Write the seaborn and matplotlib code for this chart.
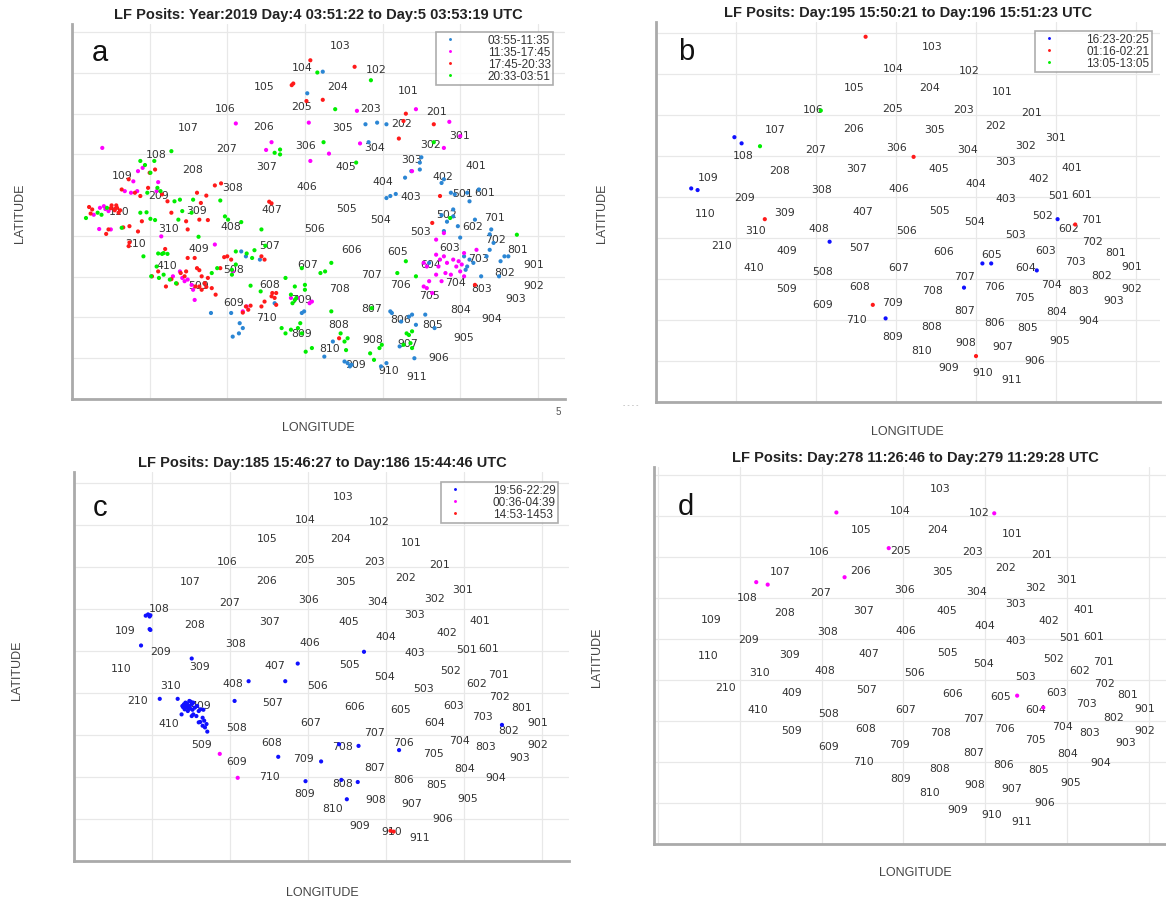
import matplotlib
matplotlib.use("Agg")
import matplotlib.pyplot as plt
import seaborn as sns
import pandas as pd

# station grid labels (data units, same layout in all four panels)
station_ids = [101, 102, 103, 104, 105, 106, 107, 108, 109, 110,
               201, 202, 203, 204, 205, 206, 207, 208, 209, 210,
               301, 302, 303, 304, 305, 306, 307, 308, 309, 310,
               401, 402, 403, 404, 405, 406, 407, 408, 409, 410,
               501, 502, 503, 504, 505, 506, 507, 508, 509,
               601, 602, 603, 604, 605, 606, 607, 608, 609,
               701, 702, 703, 704, 705, 706, 707, 708, 709, 710,
               801, 802, 803, 804, 805, 806, 807, 808, 809, 810,
               901, 902, 903, 904, 905, 906, 907, 908, 909, 910, 911]
station_x = [4.33, 3.92, 3.45, 2.96, 2.48, 1.97, 1.49, 1.09, 0.65, 0.61,
             4.69, 4.25, 3.85, 3.42, 2.96, 2.47, 1.99, 1.55, 1.11, 0.82,
             4.99, 4.62, 4.37, 3.90, 3.48, 3.01, 2.51, 2.07, 1.61, 1.24,
             5.20, 4.78, 4.37, 4.00, 3.53, 3.03, 2.58, 2.04, 1.63, 1.22,
             5.03, 4.83, 4.49, 3.98, 3.54, 3.13, 2.55, 2.08, 1.63,
             5.32, 5.16, 4.87, 4.62, 4.19, 3.60, 3.03, 2.54, 2.08,
             5.44, 5.46, 5.24, 4.94, 4.61, 4.23, 3.86, 3.45, 2.95, 2.51,
             5.74, 5.57, 5.28, 5.01, 4.65, 4.23, 3.86, 3.44, 2.96, 3.32,
             5.95, 5.95, 5.72, 5.41, 5.05, 4.73, 4.33, 3.87, 3.66, 4.08, 4.44]
station_y = [7.59, 8.10, 8.68, 8.15, 7.69, 7.15, 6.67, 6.02, 5.50, 4.60,
             7.07, 6.76, 7.14, 7.68, 7.18, 6.69, 6.16, 5.65, 5.01, 3.83,
             6.47, 6.26, 5.88, 6.18, 6.67, 6.23, 5.72, 5.20, 4.64, 4.20,
             5.73, 5.46, 4.97, 5.35, 5.72, 5.22, 4.66, 4.24, 3.71, 3.29,
             5.05, 4.55, 4.11, 4.41, 4.68, 4.20, 3.78, 3.20, 2.79,
             5.07, 4.24, 3.72, 3.30, 3.62, 3.69, 3.30, 2.83, 2.38,
             4.46, 3.93, 3.45, 2.87, 2.56, 2.83, 3.07, 2.73, 2.45, 2.02,
             3.67, 3.11, 2.73, 2.22, 1.84, 1.96, 2.24, 1.85, 1.61, 1.26,
             3.32, 2.79, 2.48, 1.99, 1.51, 1.02, 1.37, 1.47, 0.85, 0.72, 0.57]

# panel a: Year 2019 day 4-5
a_periods = ["03:55-11:35", "11:35-17:45", "17:45-20:33", "20:33-03:51"]
a_blue = [(3.23, 8.03), (3.03, 7.50), (3.78, 6.74), (3.93, 6.78), (4.05, 6.74), (3.82, 6.30),
          (4.50, 5.93), (4.48, 5.80), (4.37, 5.59), (4.29, 5.43), (4.48, 5.63), (2.18, 3.62),
          (2.24, 3.50), (2.42, 3.42), (1.79, 2.11), (2.05, 2.11), (2.16, 1.86), (2.20, 1.74),
          (2.07, 1.53), (2.15, 1.61), (2.61, 2.35), (2.99, 2.15), (2.96, 2.11), (3.36, 1.41),
          (3.25, 1.04), (3.51, 0.92), (3.55, 0.88), (3.58, 0.80), (3.60, 0.84), (3.98, 0.80),
          (4.05, 0.88), (4.10, 2.15), (4.12, 2.11), (4.22, 1.29), (4.24, 1.90), (4.34, 2.02),
          (4.38, 2.07), (4.43, 1.82), (4.55, 2.07), (4.41, 1.00), (4.67, 1.74), (4.05, 4.93),
          (4.10, 4.98), (4.17, 5.03), (4.76, 5.30), (4.79, 5.39), (4.88, 5.06), (4.93, 5.02),
          (5.09, 5.06), (5.12, 4.85), (5.24, 5.14), (4.76, 4.51), (4.83, 4.35), (4.91, 4.48),
          (4.97, 4.24), (4.79, 4.12), (5.00, 3.96), (5.19, 4.40), (5.40, 4.16), (5.38, 4.04),
          (5.43, 3.83), (5.38, 3.66), (5.34, 3.50), (5.27, 3.01), (5.52, 3.38), (5.57, 3.50),
          (5.50, 3.01), (4.60, 3.34), (5.05, 3.50), (5.12, 3.42), (5.17, 3.34), (5.07, 3.17),
          (5.09, 3.25), (4.91, 4.65), (5.62, 3.50)]
a_magenta = [(3.67, 7.07), (4.43, 7.11), (2.11, 6.76), (3.05, 6.78), (4.86, 6.80), (5.00, 6.45),
             (0.39, 6.16), (2.57, 6.30), (2.50, 6.11), (3.31, 6.02), (3.71, 6.27), (4.79, 6.16),
             (4.38, 5.59), (3.07, 5.84), (0.85, 5.59), (0.91, 5.67), (0.79, 5.34), (0.68, 5.10),
             (0.76, 5.06), (0.84, 5.10), (1.11, 5.32), (1.09, 5.10), (1.15, 3.99), (0.43, 4.66),
             (0.47, 4.61), (0.36, 4.69), (0.41, 4.73), (0.35, 4.17), (0.28, 4.52), (0.50, 4.16),
             (1.30, 3.01), (1.39, 3.13), (1.42, 2.97), (1.45, 2.89), (1.54, 2.80), (1.56, 2.68),
             (1.49, 2.93), (1.58, 2.43), (1.84, 3.79), (2.07, 3.13), (2.20, 2.15), (2.25, 2.27),
             (2.82, 2.48), (2.91, 2.48), (3.06, 2.35), (3.09, 2.39),
             (4.53, 3.34), (4.57, 3.25), (4.69, 3.54), (4.74, 3.42), (4.72, 3.25), (4.79, 3.50),
             (4.83, 3.34), (4.69, 3.05), (4.81, 3.09), (4.88, 3.05), (4.95, 3.25), (5.00, 3.13),
             (5.05, 3.01), (4.60, 2.89), (4.53, 2.76), (4.57, 2.72), (4.76, 2.89), (4.98, 3.38),
             (5.02, 3.30), (5.21, 3.66), (4.91, 3.42), (5.05, 3.58), (4.64, 2.60), (4.69, 3.91),
             (4.79, 4.07)]
a_red = [(3.07, 8.31), (3.64, 8.15), (2.83, 7.70), (2.85, 7.74), (3.02, 7.31), (3.23, 7.34),
         (4.30, 7.00), (4.27, 6.82), (4.66, 6.74), (4.21, 6.39), (1.00, 5.55), (1.07, 5.63),
         (0.73, 5.39), (0.64, 5.14), (0.81, 5.06), (0.88, 4.98), (0.98, 5.18), (1.16, 5.02),
         (1.23, 4.85), (1.84, 5.24), (1.92, 5.29), (1.61, 5.06), (1.73, 4.99), (1.66, 4.81),
         (1.28, 4.57), (1.47, 4.36), (1.64, 4.40), (1.75, 4.39), (1.49, 4.16), (2.54, 4.84),
         (2.57, 4.80), (0.50, 4.68), (0.55, 4.66), (0.58, 4.69), (0.60, 4.57), (0.55, 4.63),
         (0.51, 4.75), (0.57, 4.75), (0.62, 4.63), (0.22, 4.71), (0.26, 4.65), (0.24, 4.55),
         (0.44, 4.05), (0.47, 4.16), (0.66, 4.21), (0.74, 4.24), (0.85, 4.11), (0.90, 4.36),
         (0.73, 3.75), (0.74, 3.84), (1.20, 3.68), (1.03, 3.01), (1.11, 3.13), (1.21, 2.76),
         (1.28, 2.94), (1.35, 2.83), (1.40, 3.09), (1.45, 3.01), (1.47, 3.13), (1.49, 3.46),
         (1.58, 3.46), (1.61, 3.21), (1.64, 3.16), (1.67, 3.01), (1.71, 2.84), (1.64, 2.76),
         (1.59, 2.76), (1.73, 2.75), (1.67, 2.68), (1.75, 2.97), (1.80, 2.72), (1.96, 3.48),
         (2.00, 3.50), (2.05, 3.42), (1.85, 2.56), (1.91, 3.21), (2.44, 3.50), (2.48, 3.42),
         (2.24, 2.27), (2.27, 2.19), (2.20, 2.12), (2.30, 2.29), (2.44, 2.27), (2.48, 2.39),
         (2.58, 2.60), (2.61, 2.48), (2.63, 2.60), (2.63, 2.31), (2.57, 2.52), (3.44, 1.49),
         (4.74, 4.98), (4.64, 4.32), (5.19, 2.80)]
a_green = [(3.16, 8.01), (3.85, 7.82), (3.39, 7.11), (2.61, 6.04), (2.68, 6.12), (2.68, 6.00),
           (3.24, 6.30), (4.66, 6.30), (3.66, 5.80), (1.28, 6.08), (0.88, 5.84), (0.94, 5.74),
           (1.01, 5.55), (1.06, 5.84), (0.97, 5.06), (1.10, 5.18), (1.14, 5.10), (1.39, 4.89),
           (1.32, 4.85), (1.56, 4.89), (1.91, 4.87), (1.54, 4.57), (1.42, 4.61), (1.37, 4.40),
           (1.63, 3.98), (1.97, 4.48), (2.01, 4.40), (2.18, 4.34), (2.44, 4.16), (0.45, 4.69),
           (0.33, 4.57), (0.38, 4.52), (0.18, 4.44), (0.64, 4.20), (0.88, 4.57), (0.96, 4.58),
           (1.01, 4.42), (1.07, 4.39), (0.92, 3.50), (1.11, 3.57), (1.16, 3.56), (1.23, 3.56),
           (1.18, 3.58), (1.02, 3.01), (1.09, 3.25), (1.12, 2.97), (1.18, 3.05), (1.26, 2.93),
           (1.34, 2.84), (1.80, 3.09), (1.87, 3.21), (2.06, 3.17), (2.11, 3.30), (2.06, 3.05),
           (2.11, 3.62), (2.25, 3.57), (2.35, 3.65), (2.32, 3.46), (2.49, 3.76), (2.30, 2.78),
           (2.43, 2.64), (2.70, 1.74), (2.75, 1.61), (2.82, 1.70), (2.91, 1.74), (2.94, 1.86),
           (2.96, 1.61), (2.75, 2.97), (2.87, 2.76), (3.00, 2.80), (3.00, 2.68), (2.89, 2.48),
           (2.82, 2.56), (2.84, 2.35), (2.87, 2.43), (2.96, 3.21), (3.26, 3.13), (3.20, 3.09),
           (3.34, 3.34), (3.34, 2.15), (3.46, 1.61), (3.55, 1.49), (3.51, 1.41), (3.01, 1.16),
           (3.09, 1.25), (3.53, 1.20), (3.89, 0.96), (3.96, 1.25), (3.99, 1.33), (4.31, 1.61),
           (4.34, 1.57), (4.38, 1.66), (4.36, 1.37), (4.27, 1.33), (4.38, 1.25), (3.86, 2.23),
           (3.84, 1.12), (4.19, 3.09), (4.30, 3.38), (4.43, 3.01), (5.73, 4.03), (4.87, 4.44)]

# panel b: day 195-196
b_periods = ["16:23-20:25", "01:16-02:21", "13:05-13:05"]
b_blue = [(0.98, 6.46), (1.07, 6.31), (0.44, 5.21), (0.52, 5.17), (2.17, 3.91), (5.02, 4.46),
          (4.08, 3.38), (4.19, 3.38), (4.76, 3.21), (3.85, 2.79), (2.87, 2.04)]
b_red = [(2.62, 8.91), (3.22, 5.98), (1.36, 4.46), (5.24, 4.33), (2.71, 2.37), (4.00, 1.12)]
b_green = [(1.30, 6.24), (2.06, 7.11)]

# panel c: day 185-186
c_periods = ["19:56-22:29", "00:36-04:39", "14:53-1453"]
c_blue = [(0.92, 5.84), (0.95, 5.87), (0.97, 5.82), (0.98, 5.85), (0.97, 5.52), (0.98, 5.50),
          (0.86, 5.13), (1.51, 4.82), (1.10, 3.86), (1.33, 3.86), (2.06, 3.81), (2.24, 4.28),
          (2.71, 4.28), (2.87, 4.70), (3.72, 4.98), (2.62, 2.48), (3.17, 2.37), (2.97, 1.90),
          (3.40, 2.78), (3.65, 2.74), (3.43, 1.93), (3.64, 1.88), (3.50, 1.47), (4.17, 2.64),
          (5.49, 3.24),
          (1.39, 3.69), (1.41, 3.73), (1.43, 3.77), (1.46, 3.69), (1.48, 3.81), (1.51, 3.73),
          (1.53, 3.77), (1.42, 3.61), (1.46, 3.57), (1.49, 3.63), (1.52, 3.60), (1.55, 3.65),
          (1.58, 3.69), (1.60, 3.57), (1.62, 3.61), (1.66, 3.60), (1.53, 3.49), (1.57, 3.45),
          (1.51, 3.45), (1.38, 3.49), (1.65, 3.41), (1.67, 3.34), (1.70, 3.26), (1.68, 3.18),
          (1.71, 3.08), (1.60, 3.30), (1.62, 3.31), (1.65, 3.22), (1.43, 3.65), (1.48, 3.69),
          (1.45, 3.75), (1.50, 3.79), (1.44, 3.72), (1.47, 3.62), (1.40, 3.66)]
c_magenta = [(1.87, 2.55), (2.10, 1.98)]
c_red = [(4.06, 0.72), (4.10, 0.70)]

# panel d: day 278-279
d_magenta = [(2.18, 8.09), (4.11, 8.07), (2.82, 7.22), (2.28, 6.51), (1.20, 6.39), (1.34, 6.33),
             (4.39, 3.62), (4.71, 3.33)]

MBLUE = "#2b86d4"
BLUE = "#1010ff"
MAGENTA = "#ff00ff"
RED = "#ff1a1a"
GREEN = "#00ee00"


def make_df(groups):
    rows = []
    for label, pts in groups:
        for x, y in pts:
            rows.append({"x": x, "y": y, "period": label})
    return pd.DataFrame(rows)


def draw_panel(ax, df, palette, xlim, ylim, legend_anchor=None):
    ax.set_xlim(*xlim)
    ax.set_ylim(*ylim)
    ax.set_xticks(range(0, 7))
    ax.set_yticks(range(0, 10))
    ax.set_xticklabels([])
    ax.set_yticklabels([])
    ax.grid(True, color="#e8e8e8", lw=0.9)
    ax.set_axisbelow(True)
    ax.tick_params(direction="in", length=3, width=1, color="#666666")
    for s in ["top", "right"]:
        ax.spines[s].set_visible(False)
    for s in ["left", "bottom"]:
        ax.spines[s].set_color("#aaaaaa")
        ax.spines[s].set_linewidth(2)

    for sid, x, y in zip(station_ids, station_x, station_y):
        ax.text(x, y, str(sid), ha="center", va="center", fontsize=7.8,
                color="#333333", family="DejaVu Sans", zorder=2)

    sns.scatterplot(data=df, x="x", y="y", hue="period", palette=palette,
                    hue_order=list(palette.keys()), s=9, linewidth=0,
                    legend=legend_anchor is not None, ax=ax, zorder=3)
    ax.set_xlabel("")
    ax.set_ylabel("")
    if legend_anchor is not None:
        sns.move_legend(ax, "upper right", bbox_to_anchor=legend_anchor, title=None,
                        frameon=True, fancybox=False, edgecolor="#999999",
                        fontsize=8.5, markerscale=0.7, handletextpad=2.2,
                        borderpad=0.2, labelspacing=0.0, borderaxespad=0)
        leg = ax.get_legend()
        leg.get_frame().set_linewidth(1.2)
        for t in leg.get_texts():
            t.set_color("#333333")


sns.set_theme(style="white")
plt.rcParams["font.family"] = ["Liberation Sans", "DejaVu Sans"]

fig = plt.figure(figsize=(11.66, 9.03), dpi=100)
W, H = 1166.0, 903.0


def add_axes(left, top, right, bottom):
    return fig.add_axes([left / W, 1 - bottom / H, (right - left) / W, (bottom - top) / H])


ax_a = add_axes(72, 25, 565, 400)
ax_b = add_axes(656, 23, 1160, 403)
ax_c = add_axes(74, 473, 569, 862)
ax_d = add_axes(654, 468, 1166, 845)

df_a = make_df([(a_periods[0], a_blue), (a_periods[1], a_magenta),
                (a_periods[2], a_red), (a_periods[3], a_green)])
draw_panel(ax_a, df_a, dict(zip(a_periods, [MBLUE, MAGENTA, RED, GREEN])),
           (0, 6.35), (0, 9.2), legend_anchor=(0.976, 0.979))

df_b = make_df([(b_periods[0], b_blue), (b_periods[1], b_red), (b_periods[2], b_green)])
draw_panel(ax_b, df_b, dict(zip(b_periods, [BLUE, RED, GREEN])),
           (0, 6.3), (0, 9.27), legend_anchor=(0.984, 0.976))

df_c = make_df([(c_periods[0], c_blue), (c_periods[1], c_magenta), (c_periods[2], c_red)])
draw_panel(ax_c, df_c, dict(zip(c_periods, [BLUE, MAGENTA, RED])),
           (0, 6.35), (0, 9.26), legend_anchor=(0.978, 0.974))

df_d = make_df([("d", d_magenta)])
draw_panel(ax_d, df_d, {"d": MAGENTA}, (-0.05, 6.21), (0, 9.2))

titles = [("LF Posits: Year:2019 Day:4 03:51:22 to Day:5 03:53:19 UTC", 318, 15),
          ("LF Posits: Day:195 15:50:21 to Day:196 15:51:23 UTC", 908, 13),
          ("LF Posits: Day:185 15:46:27 to Day:186 15:44:46 UTC", 322, 463),
          ("LF Posits: Day:278 11:26:46 to Day:279 11:29:28 UTC", 915, 458)]
for txt, x, y in titles:
    fig.text(x / W, 1 - y / H, txt, ha="center", va="center", fontsize=10.5,
             fontweight="bold", color="#222222")

for x, y in [(20, 213), (602, 213), (17, 670), (597, 657)]:
    fig.text(x / W, 1 - y / H, "LATITUDE", rotation=90, ha="center", va="center",
             fontsize=9, color="#444444")
for x, y in [(318, 428), (907, 432), (322, 893), (915, 873)]:
    fig.text(x / W, 1 - y / H, "LONGITUDE", ha="center", va="center",
             fontsize=9, color="#444444")

for lab, x, y in [("a", 100, 53), ("b", 686, 52), ("c", 100, 508), ("d", 686, 507)]:
    fig.text(x / W, 1 - y / H, lab, ha="center", va="center", fontsize=21, color="#111111")

# leftover tick-label fragments visible in the original
fig.text(558 / W, 1 - 412 / H, "5", ha="center", va="center", fontsize=7, color="#555555")
fig.text(631 / W, 1 - 406 / H, "- - - -", ha="center", va="center", fontsize=5, color="#aaaaaa")

fig.savefig("out.png", dpi=100)
